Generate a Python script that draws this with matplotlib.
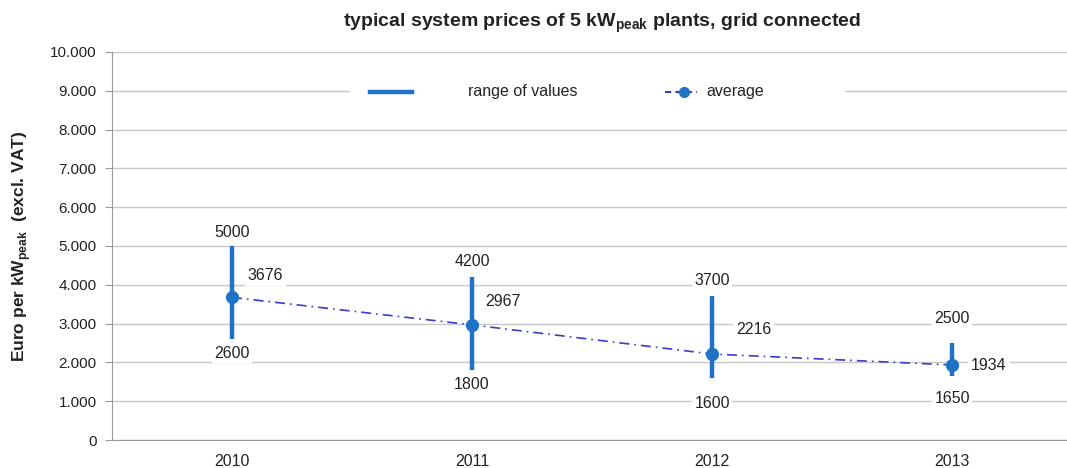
import numpy as np
import matplotlib.pyplot as plt
from matplotlib.lines import Line2D
from matplotlib.patches import Rectangle

plt.rcParams['font.family'] = ['Liberation Sans', 'DejaVu Sans']

years = ['2010', '2011', '2012', '2013']
high = [5000, 4200, 3700, 2500]
low = [2600, 1800, 1600, 1650]
average = [3676, 2967, 2216, 1934]

bar_color = '#1f72c6'
line_color = '#3a3ad0'
grid_color = '#c8c8c8'
text_color = '#222222'

W, H = 1067, 468
fig = plt.figure(figsize=(W / 100, H / 100), dpi=100)
ax = fig.add_axes([112 / W, 28 / H, 1 - 112 / W, 388 / H])

x = np.arange(len(years))

# horizontal grid
ax.set_ylim(0, 10000)
ax.set_yticks(np.arange(0, 10001, 1000))
ax.set_yticklabels([f'{v:,}'.replace(',', '.') for v in range(0, 10001, 1000)])
ax.yaxis.grid(True, color=grid_color, linewidth=1)
ax.set_axisbelow(True)

# range bars + average line
ax.vlines(x, low, high, color=bar_color, linewidth=3.2, zorder=3)
ax.plot(x, average, linestyle=(0, (6, 3, 1, 3)), color=line_color, linewidth=1.2, zorder=4)
ax.plot(x, average, 'o', color=bar_color, markersize=8.5, zorder=5)

# label offsets (data units), like the excel placement
hi_off = [350, 400, 400, 640]
lo_off = [-360, -380, -670, -570]
avg_off = [(0.065, 560), (0.055, 590), (0.1, 620), (0.08, -20)]

box = dict(facecolor='white', edgecolor='none', pad=2)
fs = 11.5
for i in range(len(years)):
    ax.text(x[i], high[i] + hi_off[i], str(high[i]), ha='center', va='center',
            fontsize=fs, color=text_color, bbox=box, zorder=6)
    ax.text(x[i], low[i] + lo_off[i], str(low[i]), ha='center', va='center',
            fontsize=fs, color=text_color, bbox=box, zorder=6)
    dx, dy = avg_off[i]
    ax.text(x[i] + dx, average[i] + dy, str(average[i]), ha='left', va='center',
            fontsize=fs, color=text_color, bbox=box, zorder=6)

ax.set_xlim(-0.5, -0.5 + 955 / 240)
ax.set_xticks(x)
ax.set_xticklabels(years)
ax.tick_params(axis='x', length=0, pad=10, labelsize=11.5, labelcolor=text_color)
ax.tick_params(axis='y', length=5, color='#999999', labelsize=11, labelcolor=text_color, pad=6)

for side in ['top', 'right']:
    ax.spines[side].set_visible(False)
ax.spines['left'].set_color('#999999')
ax.spines['bottom'].set_color('#999999')

ax.set_ylabel(r'Euro per kW$_{\mathregular{peak}}$  (excl. VAT)', fontsize=12.5,
              fontweight='bold', color=text_color, labelpad=12)
fig.suptitle(r'typical system prices of 5 kW$_{\mathregular{peak}}$ plants, grid connected',
             x=602 / W, y=0.975, fontsize=14, fontweight='bold', color=text_color)

# legend drawn by hand (excel-like spacing)
def ax_x(px):
    return (px - 112) / 955

ly = (440 - 92) / 388
ax.add_patch(Rectangle((ax_x(350), ly - 0.04), ax_x(845) - ax_x(350), 0.08,
                       transform=ax.transAxes, facecolor='white', edgecolor='none', zorder=6))
ax.add_line(Line2D([ax_x(370), ax_x(412)], [ly, ly], transform=ax.transAxes,
                   color=bar_color, linewidth=3.2, zorder=7))
ax.text(ax_x(468), ly, 'range of values', transform=ax.transAxes, ha='left', va='center',
        fontsize=fs, color=text_color, zorder=7)
ax.add_line(Line2D([ax_x(665), ax_x(697)], [ly, ly], transform=ax.transAxes,
                   color=line_color, linestyle=(0, (3, 2)), linewidth=1.5, zorder=7))
ax.add_line(Line2D([ax_x(684)], [ly], transform=ax.transAxes, marker='o',
                   color=bar_color, markersize=7, zorder=8))
ax.text(ax_x(706), ly, 'average', transform=ax.transAxes, ha='left', va='center',
        fontsize=fs, color=text_color, zorder=7)

fig.savefig('out.png', dpi=100)
